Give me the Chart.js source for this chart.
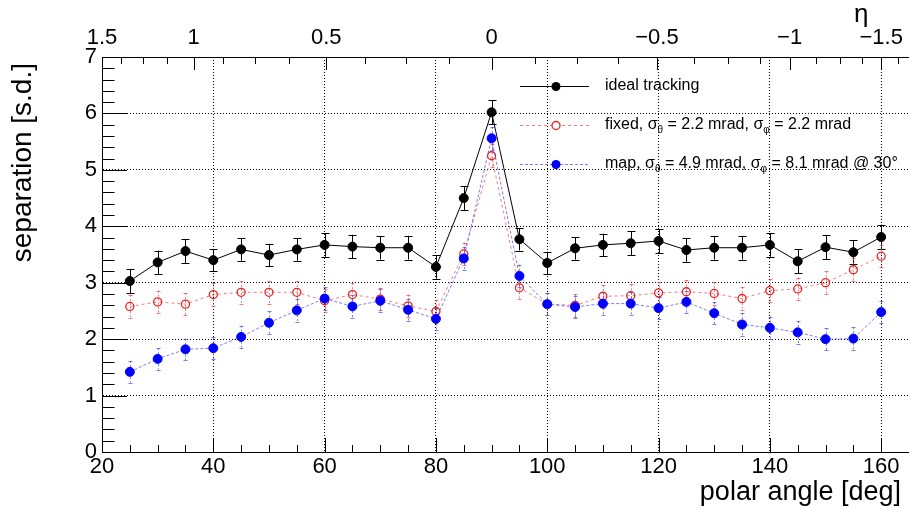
<!DOCTYPE html>
<html>
<head>
<meta charset="utf-8">
<script src="https://cdn.jsdelivr.net/npm/chart.js@4.4.0/dist/chart.umd.min.js"></script>
<style>
  html, body { margin: 0; padding: 0; background: #fff; }
  #wrap { width: 909px; height: 508px; }
</style>
</head>
<body>
<div id="wrap"><canvas id="sepChart" width="909" height="508"></canvas></div>
<script>
(function () {
    var FONT = '"Liberation Sans", Arial, Helvetica, sans-serif';

    // polar angle of each measurement point [deg]
    var angles = [25, 30, 35, 40, 45, 50, 55, 60, 65, 70, 75, 80, 85, 90,
                  95, 100, 105, 110, 115, 120, 125, 130, 135, 140, 145, 150, 155, 160];

    var idealSep = [3.03, 3.36, 3.56, 3.40, 3.59, 3.49, 3.59, 3.67, 3.64, 3.62, 3.62, 3.28, 4.50, 6.02,
                    3.77, 3.35, 3.61, 3.67, 3.70, 3.74, 3.58, 3.62, 3.62, 3.67, 3.38, 3.63, 3.54, 3.81];
    var idealErr = [0.21, 0.21, 0.21, 0.20, 0.20, 0.20, 0.20, 0.21, 0.21, 0.21, 0.21, 0.21, 0.21, 0.21,
                    0.20, 0.20, 0.20, 0.20, 0.21, 0.21, 0.21, 0.21, 0.21, 0.21, 0.21, 0.21, 0.21, 0.22];

    var fixedSep = [2.58, 2.66, 2.62, 2.79, 2.83, 2.83, 2.83, 2.68, 2.79, 2.71, 2.59, 2.49, 3.51, 5.25,
                    2.91, 2.62, 2.60, 2.76, 2.77, 2.82, 2.84, 2.81, 2.72, 2.86, 2.89, 3.00, 3.23, 3.47];
    var fixedErr = [0.20, 0.20, 0.20, 0.20, 0.20, 0.20, 0.20, 0.20, 0.20, 0.20, 0.20, 0.20, 0.20, 0.20,
                    0.20, 0.20, 0.20, 0.20, 0.20, 0.20, 0.20, 0.20, 0.20, 0.20, 0.20, 0.20, 0.20, 0.20];

    var mapSep = [1.42, 1.65, 1.82, 1.84, 2.04, 2.29, 2.51, 2.72, 2.58, 2.68, 2.52, 2.36, 3.43, 5.56,
                  3.12, 2.62, 2.57, 2.63, 2.63, 2.55, 2.66, 2.46, 2.26, 2.20, 2.12, 2.00, 2.01, 2.48];
    var mapErr = [0.19, 0.19, 0.19, 0.19, 0.20, 0.20, 0.20, 0.20, 0.20, 0.20, 0.20, 0.20, 0.20, 0.20,
                  0.20, 0.20, 0.20, 0.20, 0.20, 0.20, 0.20, 0.20, 0.20, 0.20, 0.20, 0.20, 0.20, 0.20];

    var angleTicks = [20, 40, 60, 80, 100, 120, 140, 160];
    var sepTicks = [0, 1, 2, 3, 4, 5, 6, 7];
    var etaTicks = [1.5, 1, 0.5, 0, -0.5, -1, -1.5];

    var legendLabels = [
        'ideal tracking',
        'fixed, \u03c3_\u03b8 = 2.2 mrad, \u03c3_\u03c6 = 2.2 mrad',
        'map, \u03c3_\u03b8 = 4.9 mrad, \u03c3_\u03c6 = 8.1 mrad @ 30\u00b0'
    ];

    // the eta axis is stretched so that |eta| = 1.5 sits on 20 and 160 deg
    var thetaEdge = 2 * Math.atan(Math.exp(-1.5)) * 180 / Math.PI;
    function etaToAngle(eta) {
        var theta = 2 * Math.atan(Math.exp(-eta)) * 180 / Math.PI;
        return 90 + (theta - 90) * 140 / (180 - 2 * thetaEdge);
    }

    function points(values) {
        return angles.map(function (a, i) { return { x: a, y: values[i] }; });
    }

    function fmtEta(v) {
        return v < 0 ? '\u2212' + String(-v) : String(v);
    }

    var errorBars = {
        id: 'errorBars',
        beforeDatasetsDraw: function (chart) {
            var ctx = chart.ctx;
            var yScale = chart.scales.y;
            var styles = [
                { err: idealErr, color: '#000', dash: [], cap: 4 },
                { err: fixedErr, color: 'rgba(240,70,70,0.7)', dash: [2, 2], cap: 2 },
                { err: mapErr, color: 'rgba(70,70,240,0.7)', dash: [2, 2], cap: 2 }
            ];
            ctx.save();
            chart.data.datasets.forEach(function (ds, di) {
                var meta = chart.getDatasetMeta(di);
                var st = styles[di];
                ctx.strokeStyle = st.color;
                ctx.lineWidth = 1;
                meta.data.forEach(function (pt, i) {
                    var v = ds.data[i].y;
                    var x = Math.round(pt.x) + 0.5;
                    var yt = yScale.getPixelForValue(v + st.err[i]);
                    var yb = yScale.getPixelForValue(v - st.err[i]);
                    ctx.setLineDash(st.dash);
                    ctx.beginPath();
                    ctx.moveTo(x, yt);
                    ctx.lineTo(x, yb);
                    ctx.stroke();
                    ctx.setLineDash([]);
                    ctx.beginPath();
                    ctx.moveTo(x - st.cap, Math.round(yt) + 0.5);
                    ctx.lineTo(x + st.cap, Math.round(yt) + 0.5);
                    ctx.moveTo(x - st.cap, Math.round(yb) + 0.5);
                    ctx.lineTo(x + st.cap, Math.round(yb) + 0.5);
                    ctx.stroke();
                });
            });
            ctx.restore();
        }
    };

    // inward tick marks on all three axes
    var innerTicks = {
        id: 'innerTicks',
        afterDatasetsDraw: function (chart) {
            var ctx = chart.ctx;
            var area = chart.chartArea;
            var xs = chart.scales.x, ys = chart.scales.y, xt = chart.scales.x2;
            var v, p, e;
            ctx.save();
            ctx.strokeStyle = '#000';
            ctx.lineWidth = 1;
            ctx.beginPath();
            for (v = 20; v <= 165; v += 5) {
                p = Math.round(xs.getPixelForValue(v)) + 0.5;
                ctx.moveTo(p, area.bottom);
                ctx.lineTo(p, area.bottom - (v % 20 === 0 ? 14 : 7));
            }
            for (v = 0; v <= 35; v += 1) {
                p = Math.round(ys.getPixelForValue(v / 5)) + 0.5;
                ctx.moveTo(area.left, p);
                ctx.lineTo(area.left + (v % 5 === 0 ? 25 : 12.5), p);
            }
            for (e = -13; e <= 12; e += 1) {
                var a = etaToAngle(e * 0.125);
                if (a < 20 || a > 165) continue;
                p = Math.round(xt.getPixelForValue(a)) + 0.5;
                ctx.moveTo(p, area.top);
                ctx.lineTo(p, area.top + (e % 4 === 0 ? 13 : 7));
            }
            ctx.stroke();
            ctx.restore();
        }
    };

    function drawRich(ctx, text, x, y) {
        text.split(/(_.)/).forEach(function (part) {
            if (!part) return;
            var sub = part.charAt(0) === '_';
            var t = sub ? part.charAt(1) : part;
            ctx.font = (sub ? '10px ' : '16px ') + FONT;
            ctx.fillText(t, x, y + (sub ? 5 : 0));
            x += ctx.measureText(t).width;
        });
    }

    var annotations = {
        id: 'annotations',
        afterDraw: function (chart) {
            var ctx = chart.ctx;
            ctx.save();
            ctx.fillStyle = '#000';
            ctx.textBaseline = 'alphabetic';

            ctx.font = '27px ' + FONT;
            ctx.textAlign = 'right';
            ctx.fillText('polar angle [deg]', 901, 500);

            ctx.save();
            ctx.translate(31, 63);
            ctx.rotate(-Math.PI / 2);
            ctx.font = '28px ' + FONT;
            ctx.fillText('separation [s.d.]', 0, 0);
            ctx.restore();

            ctx.textAlign = 'left';
            ctx.font = '26px ' + FONT;
            ctx.fillText('\u03b7', 854, 22);

            // legend
            var rows = [86, 125, 164];
            var lineStyles = [
                { color: '#000', dash: [] },
                { color: 'rgba(240,70,70,0.7)', dash: [3, 3] },
                { color: 'rgba(70,70,240,0.7)', dash: [3, 2] }
            ];
            rows.forEach(function (y, i) {
                ctx.strokeStyle = lineStyles[i].color;
                ctx.setLineDash(lineStyles[i].dash);
                ctx.lineWidth = 1;
                ctx.beginPath();
                ctx.moveTo(520, y + 0.5);
                ctx.lineTo(589, y + 0.5);
                ctx.stroke();
                ctx.setLineDash([]);
                ctx.beginPath();
                ctx.arc(556, y + 0.5, i === 1 ? 4 : 4.5, 0, Math.PI * 2);
                if (i === 1) {
                    ctx.fillStyle = '#fff';
                    ctx.fill();
                    ctx.strokeStyle = '#e82020';
                    ctx.lineWidth = 1.3;
                    ctx.stroke();
                } else {
                    ctx.fillStyle = i === 0 ? '#000' : '#0000ff';
                    ctx.fill();
                }
                ctx.fillStyle = '#000';
                ctx.textBaseline = 'middle';
                drawRich(ctx, legendLabels[i], 605, y);
            });
            ctx.restore();
        }
    };

    var ctx = document.getElementById('sepChart').getContext('2d');
    new Chart(ctx, {
        type: 'scatter',
        data: {
            datasets: [{
                label: legendLabels[0],
                data: points(idealSep),
                showLine: true,
                borderColor: '#000',
                borderWidth: 1,
                pointRadius: 4.5,
                pointBackgroundColor: '#000',
                pointBorderColor: '#000',
                order: 3
            }, {
                label: legendLabels[1],
                data: points(fixedSep),
                showLine: true,
                borderColor: 'rgba(240,70,70,0.7)',
                borderDash: [3, 3],
                borderWidth: 1,
                pointRadius: 4,
                pointBackgroundColor: 'rgba(255,255,255,0)',
                pointBorderColor: '#e82020',
                pointBorderWidth: 1.3,
                order: 2
            }, {
                label: legendLabels[2],
                data: points(mapSep),
                showLine: true,
                borderColor: 'rgba(70,70,240,0.7)',
                borderDash: [3, 2],
                borderWidth: 1,
                pointRadius: 4.5,
                pointBackgroundColor: '#0000ff',
                pointBorderColor: '#0000ff',
                order: 1
            }]
        },
        options: {
            responsive: false,
            animation: false,
            events: [],
            layout: { padding: 0, autoPadding: false },
            plugins: {
                legend: { display: false },
                tooltip: { enabled: false }
            },
            scales: {
                x: {
                    type: 'linear',
                    position: 'bottom',
                    min: 20,
                    max: 165,
                    afterBuildTicks: function (scale) {
                        scale.ticks = angleTicks.map(function (v) { return { value: v }; });
                    },
                    afterFit: function (scale) {
                        scale.height = 56;
                        scale.paddingLeft = 0;
                        scale.paddingRight = 0;
                    },
                    ticks: {
                        autoSkip: false,
                        maxRotation: 0,
                        padding: 2,
                        color: '#000',
                        font: { family: FONT, size: 22 }
                    },
                    grid: {
                        drawTicks: false,
                        color: function (c) { return c.tick && c.tick.value === 20 ? 'rgba(0,0,0,0)' : '#000'; }
                    },
                    border: { display: true, color: '#000', width: 1, dash: [1, 2] }
                },
                x2: {
                    type: 'linear',
                    position: 'top',
                    min: 20,
                    max: 165,
                    afterBuildTicks: function (scale) {
                        scale.ticks = etaTicks.map(function (e) { return { value: etaToAngle(e) }; });
                    },
                    afterFit: function (scale) {
                        scale.height = 57;
                        scale.paddingLeft = 0;
                        scale.paddingRight = 0;
                    },
                    ticks: {
                        autoSkip: false,
                        maxRotation: 0,
                        padding: 6,
                        color: '#000',
                        font: { family: FONT, size: 22 },
                        callback: function (v, i) { return fmtEta(etaTicks[i]); }
                    },
                    grid: { display: false, drawTicks: false },
                    border: { display: true, color: '#000', width: 1 }
                },
                y: {
                    type: 'linear',
                    position: 'left',
                    min: 0,
                    max: 7,
                    afterBuildTicks: function (scale) {
                        scale.ticks = sepTicks.map(function (v) { return { value: v }; });
                    },
                    afterFit: function (scale) {
                        scale.width = 102;
                        scale.paddingTop = 0;
                        scale.paddingBottom = 0;
                    },
                    ticks: {
                        padding: 5,
                        color: '#000',
                        font: { family: FONT, size: 22 }
                    },
                    grid: {
                        drawTicks: false,
                        color: function (c) { return c.tick && c.tick.value === 0 ? 'rgba(0,0,0,0)' : '#000'; }
                    },
                    border: { display: true, color: '#000', width: 1, dash: [1, 2] }
                }
            }
        },
        plugins: [errorBars, innerTicks, annotations]
    });
})();
</script>
</body>
</html>
